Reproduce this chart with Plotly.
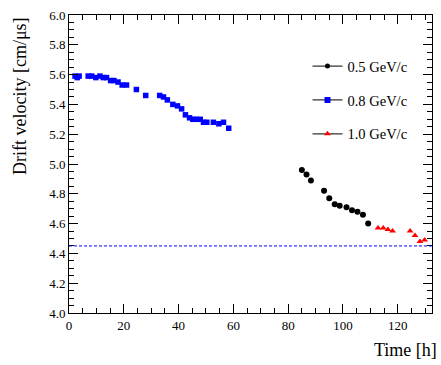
import plotly.graph_objects as go

# 0.8 GeV/c (blue squares)
t_08 = [2.2, 3.0, 3.7, 7.0, 8.3, 9.8, 11.3, 12.5, 13.7, 15.2, 16.4, 17.9, 19.4, 21.0,
        24.6, 28.0, 33.1, 34.5, 35.9, 37.9, 39.6, 41.1, 42.5, 44.0, 45.2, 46.4, 47.9,
        49.1, 50.3, 52.7, 54.7, 56.4, 58.3]
v_08 = [5.59, 5.58, 5.59, 5.59, 5.59, 5.58, 5.59, 5.58, 5.58, 5.56, 5.56, 5.55, 5.53, 5.53,
        5.50, 5.46, 5.46, 5.45, 5.43, 5.40, 5.39, 5.37, 5.33, 5.31, 5.30, 5.30, 5.30,
        5.28, 5.28, 5.28, 5.27, 5.28, 5.24]

# 0.5 GeV/c (black circles)
t_05 = [85.0, 86.7, 88.3, 93.1, 95.0, 97.0, 98.8, 101.3, 103.3, 105.3, 107.3, 109.2]
v_05 = [4.96, 4.93, 4.89, 4.82, 4.77, 4.73, 4.72, 4.71, 4.69, 4.68, 4.66, 4.60]

# 1.0 GeV/c (red triangles)
t_10 = [112.8, 114.7, 116.4, 118.1, 124.5, 126.3, 128.1, 129.8]
v_10 = [4.57, 4.57, 4.56, 4.55, 4.55, 4.52, 4.48, 4.49]

REF_LEVEL = 4.45
X_RANGE = [0, 132.5]
Y_RANGE = [4.0, 6.0]

FONT = "Liberation Serif, Times New Roman, Times, serif"

fig = go.Figure()

series = [
    # name, x, y, colour, symbol, data size, legend size
    ("0.5 GeV/c", t_05, v_05, "black", "circle", 6, 5),
    ("0.8 GeV/c", t_08, v_08, "blue", "square", 5.5, 6),
    ("1.0 GeV/c", t_10, v_10, "red", "triangle-up", 6, 6),
]

for name, t, v, col, sym, sz, lsz in series:
    fig.add_trace(go.Scatter(x=t, y=v, mode="markers", showlegend=False,
                             marker=dict(color=col, symbol=sym, size=sz, line=dict(width=0))))

for i, (name, t, v, col, sym, sz, lsz) in enumerate(series):
    fig.add_trace(go.Scatter(x=[None], y=[None], mode="lines+markers", name=name,
                             legendgroup=f"g{i}",
                             line=dict(color="#333333", width=1.2),
                             marker=dict(color=col, symbol=sym, size=lsz, line=dict(width=0))))

fig.add_hline(y=REF_LEVEL, line=dict(color="#0000ff", width=1, dash="3px,2px"))

axis_common = dict(
    showgrid=False, zeroline=False, showline=True, linecolor="black", linewidth=1,
    mirror="allticks", ticks="inside", ticklen=9, tickcolor="black", tickwidth=1,
    tickfont=dict(family=FONT, size=13, color="black"),
)

fig.update_xaxes(range=X_RANGE, dtick=20, tick0=0,
                 minor=dict(dtick=5, ticks="inside", ticklen=5, tickcolor="black"),
                 **axis_common)
fig.update_yaxes(range=Y_RANGE, dtick=0.2, tick0=4.0, tickformat=".1f",
                 minor=dict(dtick=0.05, ticks="inside", ticklen=5, tickcolor="black"),
                 **axis_common)

fig.update_layout(
    width=441, height=365,
    margin=dict(l=69, r=8, t=8, b=52),
    paper_bgcolor="white", plot_bgcolor="white",
    font=dict(family=FONT, size=13, color="black"),
    legend=dict(x=0.657, y=0.882, xanchor="left", yanchor="top",
                bgcolor="rgba(0,0,0,0)", tracegroupgap=12,
                font=dict(family=FONT, size=14.5)),
    annotations=[
        dict(text="Drift velocity [cm/μs]", xref="paper", yref="paper",
             x=-0.135, y=1.0, xanchor="center", yanchor="top", textangle=-90,
             showarrow=False, font=dict(family=FONT, size=18)),
        dict(text="Time [h]", xref="paper", yref="paper",
             x=1.02, y=-0.085, xanchor="right", yanchor="top",
             showarrow=False, font=dict(family=FONT, size=18)),
    ],
)

fig.write_html("out.html", config={"displayModeBar": False},
               post_script="document.body.style.margin='0';")
